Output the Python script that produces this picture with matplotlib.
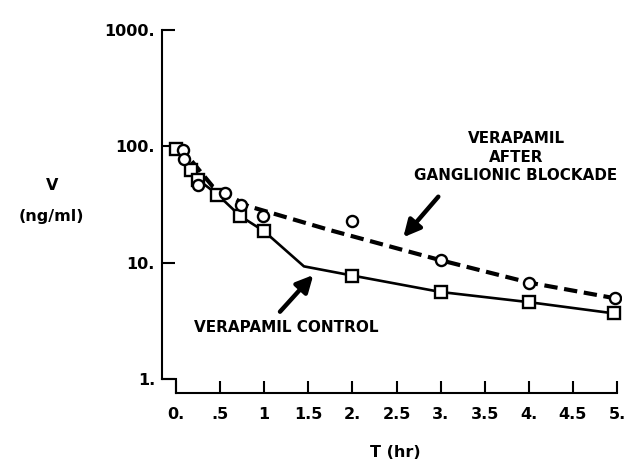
import matplotlib
matplotlib.use("Agg")
import matplotlib.pyplot as plt
import numpy as np

plt.rcParams['font.family'] = ['DejaVu Sans']
plt.rcParams['font.weight'] = 'bold'

# control: squares (the 1.5 hr kink has no marker)
ctrl_t = [0.0, 0.17, 0.25, 0.47, 0.73, 1.0, 1.45, 2.0, 3.0, 4.0, 4.96]
ctrl_v = [95.6, 63.1, 51.8, 38.5, 25.1, 18.6, 9.3, 7.75, 5.6, 4.58, 3.67]
ctrl_marked = [0, 1, 2, 3, 4, 5, 7, 8, 9, 10]

# after ganglionic blockade: circles
gang_t = [0.08, 0.09, 0.25, 0.56, 0.74, 0.99, 2.0, 3.0, 4.0, 4.98]
gang_v = [93.7, 77.1, 46.9, 39.8, 31.2, 25.1, 22.7, 10.5, 6.75, 4.94]

# dashed fit line
fit_t = [0.18, 0.42, 0.82, 1.75, 3.0, 4.0, 4.98]
fit_v = [74.4, 44.8, 30.6, 19.0, 10.5, 6.75, 4.94]

xticks = [0, 0.5, 1, 1.5, 2, 2.5, 3, 3.5, 4, 4.5, 5]
xticklabels = ['0.', '.5', '1', '1.5', '2.', '2.5', '3.', '3.5', '4.', '4.5', '5.']
yticks = [1, 10, 100, 1000]
yticklabels = ['1.', '10.', '100.', '1000.']

fig = plt.figure(figsize=(6.27, 4.65), dpi=100)
ax = fig.add_axes([162/627, 1-393.3/465, (621-162)/627, (393.3-30)/465])

ax.set_yscale('log')
ax.set_xlim(-0.159, 5.045)
ax.set_ylim(0.754, 1000)

ax.plot(fit_t, fit_v, color='black', lw=3, ls=(0, (3.2, 1.6)), zorder=2)
ax.plot(ctrl_t, ctrl_v, color='black', lw=1.9, zorder=3)
ax.plot([ctrl_t[i] for i in ctrl_marked], [ctrl_v[i] for i in ctrl_marked],
        ls='none', marker='s', ms=8.5, mfc='white', mec='black', mew=1.7, zorder=4)
ax.plot(gang_t, gang_v, ls='none', marker='o', ms=8, mfc='white', mec='black',
        mew=1.7, zorder=5)

for s in ['top', 'right']:
    ax.spines[s].set_visible(False)
ax.spines['left'].set_bounds(1, 1000)
ax.spines['bottom'].set_bounds(0, 5)
ax.spines['left'].set_linewidth(1.5)
ax.spines['bottom'].set_linewidth(1.5)
# little step joining the two axes
ax.plot([-0.159, 0, 0], [1, 1, 0.754], color='black', lw=1.5, clip_on=False,
        solid_joinstyle='miter', zorder=1)

ax.set_xticks(xticks)
ax.set_xticklabels(xticklabels)
ax.set_yticks(yticks)
ax.set_yticklabels(yticklabels)
ax.minorticks_off()
ax.tick_params(axis='both', direction='in', length=9, width=1.5, labelsize=11.5)
ax.tick_params(axis='x', pad=10)
ax.tick_params(axis='y', pad=5)
for lab in ax.get_xticklabels() + ax.get_yticklabels():
    lab.set_fontweight('bold')

fig.text(52/627, 1-185/465, 'V', ha='center', va='center', fontsize=11.5, fontweight='bold')
fig.text(51/627, 1-216/465, '(ng/ml)', ha='center', va='center', fontsize=11.5, fontweight='bold')
fig.text(395/627, 1-452/465, 'T (hr)', ha='center', va='center', fontsize=11.5, fontweight='bold')

ax.annotate('', xy=(403.3, 465-237.3), xytext=(438.3, 465-196.7),
            xycoords='figure pixels', textcoords='figure pixels',
            arrowprops=dict(arrowstyle='-|>,head_length=1.0,head_width=0.5',
                            color='black', lw=3.2, shrinkA=0, shrinkB=0))
ax.annotate('', xy=(313.3, 465-275), xytext=(280, 465-311.7),
            xycoords='figure pixels', textcoords='figure pixels',
            arrowprops=dict(arrowstyle='-|>,head_length=1.0,head_width=0.5',
                            color='black', lw=3.2, shrinkA=0, shrinkB=0))

fig.text(516/627, 1-157/465, 'VERAPAMIL\nAFTER\nGANGLIONIC BLOCKADE', ha='center',
         va='center', fontsize=10.9, fontweight='bold', linespacing=1.3)
fig.text(286/627, 1-327/465, 'VERAPAMIL CONTROL', ha='center', va='center',
         fontsize=11, fontweight='bold')

fig.savefig('out.png', dpi=100)
